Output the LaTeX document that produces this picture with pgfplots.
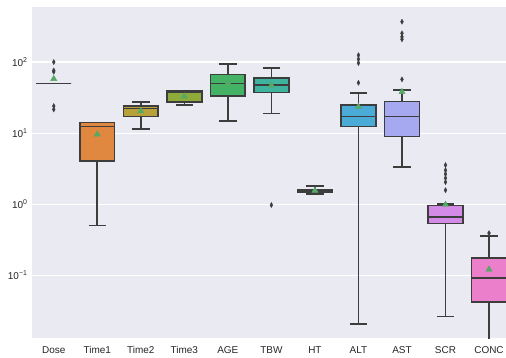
\documentclass[border=0pt]{standalone}
\usepackage{pgfplots}
\pgfplotsset{compat=1.18}
\usepackage{fontspec}
\setmainfont{Liberation Sans}
\definecolor{bg}{HTML}{EAEAF2}
\definecolor{edge}{HTML}{3D3D3D}
\definecolor{meang}{HTML}{55A868}
\definecolor{c0}{HTML}{E8828F}
\definecolor{c1}{HTML}{E0883F}
\definecolor{c2}{HTML}{B8A13A}
\definecolor{c3}{HTML}{8DAA3A}
\definecolor{c4}{HTML}{44B366}
\definecolor{c5}{HTML}{3EB39E}
\definecolor{c6}{HTML}{3BAABD}
\definecolor{c7}{HTML}{4AABD6}
\definecolor{c8}{HTML}{A6A8F0}
\definecolor{c9}{HTML}{D48BE8}
\definecolor{c10}{HTML}{EB7FCB}
\pgfplotsset{ln/.style={draw=edge, line width=1.6pt, mark=none}}
% #1 position, #2 colour, #3 lower whisker, #4 Q1, #5 median, #6 Q3, #7 upper whisker
\newcommand{\bxp}[7]{%
  \pgfmathsetmacro\L{#1-0.4}\pgfmathsetmacro\R{#1+0.4}%
  \pgfmathsetmacro\cL{#1-0.2}\pgfmathsetmacro\cR{#1+0.2}%
  \edef\tmp{%
  \noexpand\addplot[ln] coordinates {(#1,#3) (#1,#4)};
  \noexpand\addplot[ln] coordinates {(#1,#6) (#1,#7)};
  \noexpand\addplot[ln] coordinates {(\cL,#3) (\cR,#3)};
  \noexpand\addplot[ln] coordinates {(\cL,#7) (\cR,#7)};
  \noexpand\addplot[ln, fill=#2] coordinates {(\L,#4) (\R,#4) (\R,#6) (\L,#6)} -- cycle;
  \noexpand\addplot[ln] coordinates {(\L,#5) (\R,#5)};
  }\tmp}
\begin{document}
\begin{tikzpicture}
\begin{axis}[name=ax, scale only axis, width=474bp, height=331bp,
  ymode=log, ymin=0.013, ymax=596, xmin=-0.5, xmax=10.39,
  axis background/.style={fill=bg}, axis line style={draw=none},
  xtick={0,...,10},
  xticklabels={Dose,Time1,Time2,Time3,AGE,TBW,HT,ALT,AST,SCR,CONC},
  ytick={0.1,1,10,100},
  yticklabels={10\textsuperscript{−1},10\textsuperscript{0},10\textsuperscript{1},10\textsuperscript{2}},
  minor ytick={}, major tick length=0, minor tick length=0,
  ymajorgrids, grid style={white, line width=1.1pt},
  tick label style={font=\fontsize{10}{12}\selectfont, text=black!85},
  xticklabel style={yshift=-5bp},
  yticklabel style={xshift=-1bp},
  clip=true]
\bxp{0}{c0}{50}{50}{50}{50}{50}
\bxp{1}{c1}{0.5}{4.04}{12.3}{14}{14}
\bxp{2}{c2}{11.5}{17}{22.3}{24}{27.3}
\bxp{3}{c3}{25}{27.6}{37.7}{39}{40}
\bxp{4}{c4}{14.9}{33}{50}{67}{93.7}
\bxp{5}{c5}{18.9}{37.4}{47.9}{59.6}{82}
\bxp{6}{c6}{1.38}{1.46}{1.53}{1.61}{1.8}
\bxp{7}{c7}{0.0204}{12.4}{17}{24.8}{36.6}
\bxp{8}{c8}{3.35}{8.9}{17}{27.9}{40.3}
\bxp{9}{c9}{0.026}{0.535}{0.66}{0.96}{1.0}
\bxp{10}{c10}{0.005}{0.042}{0.091}{0.175}{0.358}
% outliers
\addplot[only marks, mark=diamond*, mark size=2.6pt, color=edge,
  mark options={fill=edge, draw=edge, line width=0.3pt, xscale=0.75}]
  coordinates {(0,100) (0,76) (0,73) (0,24) (0,21.5)
    (5,0.97)
    (7,125) (7,110) (7,97) (7,51)
    (8,370) (8,254) (8,227) (8,209) (8,57)
    (9,3.54) (9,3.0) (9,2.65) (9,2.32) (9,2.04) (9,1.57)
    (10,0.39)};
% means
\addplot[only marks, mark=triangle*, mark size=3.6pt, color=meang]
  coordinates {(0,58) (1,9.6) (2,20.4) (3,32.9) (4,51) (5,47) (6,1.55) (7,23.5) (8,38) (9,0.98) (10,0.12)};
\end{axis}
\pgfresetboundingbox
\path (ax.south west) ++(-32bp,-20bp) rectangle ++(506bp,358bp);
\end{tikzpicture}
\end{document}
